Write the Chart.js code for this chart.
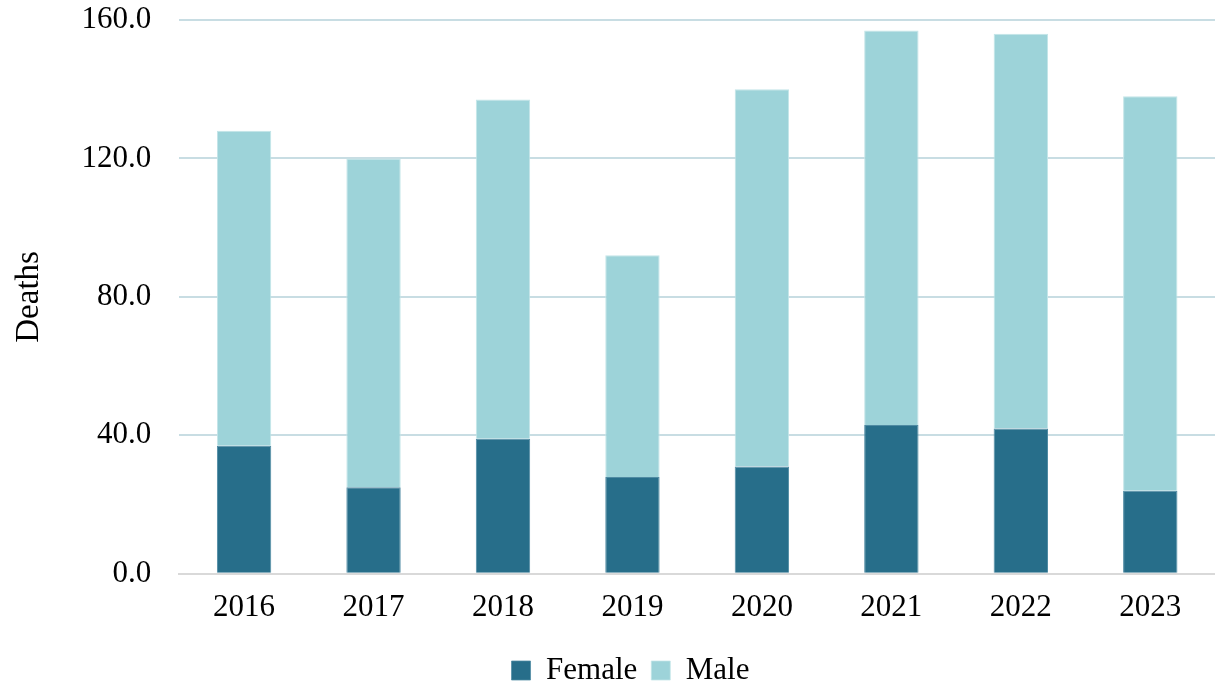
<!DOCTYPE html>
<html>
<head>
<meta charset="utf-8">
<title>Deaths by sex</title>
<script src="https://cdn.jsdelivr.net/npm/chart.js@4/dist/chart.umd.min.js"></script>
<style>
    html, body { margin: 0; padding: 0; background: #ffffff; }
    #wrap { width: 1215px; height: 685px; }
</style>
</head>
<body>
<div id="wrap"><canvas id="deathsChart" width="1215" height="685"></canvas></div>
<script>
// Datos
const years = ['2016', '2017', '2018', '2019', '2020', '2021', '2022', '2023'];
const female = [37, 25, 39, 28, 31, 43, 42, 24];
const male = [91, 95, 98, 64, 109, 114, 114, 114];
const yTicks = [0, 40, 80, 120, 160];

const fontFamily = '"Liberation Serif", "Times New Roman", serif';

// Desplaza la leyenda un poco a la derecha, como en el original
const legendShift = {
    id: 'legendShift',
    afterLayout(chart) {
        if (chart.legend) {
            chart.legend.left += 18;
            chart.legend.right += 18;
        }
    }
};

new Chart(document.getElementById('deathsChart'), {
    type: 'bar',
    data: {
        labels: years,
        datasets: [
            {
                label: 'Female',
                data: female,
                backgroundColor: '#276e8a',
                borderColor: '#4f8ba3',
                borderWidth: { top: 1, left: 1, right: 1, bottom: 0 },
                categoryPercentage: 1,
                barPercentage: 0.42
            },
            {
                label: 'Male',
                data: male,
                backgroundColor: '#9dd3d9',
                borderColor: '#c3e5e8',
                borderWidth: { top: 1, left: 1, right: 1, bottom: 0 },
                categoryPercentage: 1,
                barPercentage: 0.42
            }
        ]
    },
    plugins: [legendShift],
    options: {
        responsive: false,
        animation: false,
        layout: { padding: { top: 0, right: 0, bottom: -11, left: 10 } },
        plugins: {
            tooltip: { enabled: false },
            legend: {
                position: 'bottom',
                labels: {
                    font: { family: fontFamily, size: 31 },
                    color: '#000000',
                    boxWidth: 19,
                    boxHeight: 19,
                    padding: 14
                }
            }
        },
        scales: {
            x: {
                stacked: true,
                grid: { display: false, drawTicks: false },
                border: { color: '#d9d9d9', width: 2 },
                ticks: {
                    font: { family: fontFamily, size: 31 },
                    color: '#000000',
                    padding: 15
                }
            },
            y: {
                stacked: true,
                min: 0,
                max: 160,
                afterBuildTicks: function (axis) {
                    axis.ticks = yTicks.map(v => ({ value: v }));
                },
                grid: { color: '#c8dde3', lineWidth: 2, drawTicks: false },
                border: { display: false },
                ticks: {
                    font: { family: fontFamily, size: 31 },
                    color: '#000000',
                    padding: 28,
                    callback: v => v.toFixed(1)
                },
                // el padding de ticks mueve el area hacia abajo, se corrige aqui
                afterFit: function (axis) {
                    axis.paddingTop = 20;
                    axis.paddingBottom = 16;
                },
                title: {
                    display: true,
                    text: 'Deaths',
                    font: { family: fontFamily, size: 33 },
                    color: '#000000',
                    padding: { top: 0, bottom: 4 }
                }
            }
        }
    }
});
</script>
</body>
</html>
